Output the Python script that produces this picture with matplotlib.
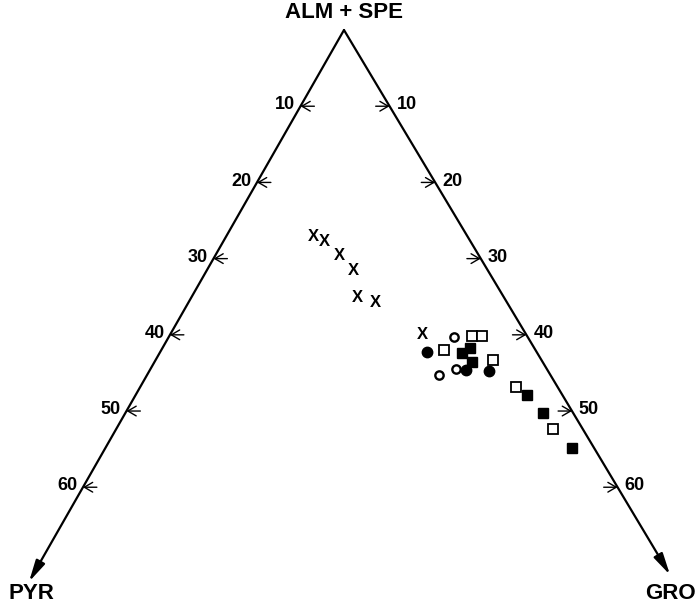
import numpy as np
import matplotlib
matplotlib.use("Agg")
import matplotlib.pyplot as plt

plt.rcParams['font.family'] = ['Liberation Sans', 'DejaVu Sans']
plt.rcParams['font.weight'] = 'bold'

# garnet compositions, mol % (ALM+SPE = 100 - PYR - GRO)
x_pyr = [17.3, 16.4, 15.7, 15.1, 16.4, 14.7, 11.6]
x_gro = [9.8, 11.3, 13.9, 16.5, 18.7, 21.0, 28.3]

oc_pyr = [8.3, 10.2, 12.5]
oc_gro = [32.0, 34.3, 32.8]

fc_pyr = [12.3, 9.1, 6.6]
fc_gro = [30.0, 35.5, 38.2]

os_pyr = [6.2, 5.1, 10.3, 5.4, 4.7, 3.4]
os_gro = [33.9, 35.1, 31.7, 37.9, 42.2, 49.0]

fs_pyr = [8.5, 7.2, 8.0, 4.0, 3.4, 2.5]
fs_gro = [33.9, 34.5, 35.6, 43.9, 46.8, 52.4]

ticks = [10, 20, 30, 40, 50, 60]
pyr_end, gro_end = 72.4, 71.5


def tern(p, g):
    # x across (slightly uneven sides as drawn), y = distance down from apex
    p = np.asarray(p, dtype=float)
    g = np.asarray(g, dtype=float)
    return -0.4855 * p + 0.5089 * g, p + g


fig = plt.figure(figsize=(6.99, 6.09), dpi=100)
ax = fig.add_axes([0, 0, 1, 1])
ax.set_xlim(-38.39, 39.62)
ax.set_ylim(75.98, -3.94)
ax.axis('off')

# triangle sides with arrows toward the end members
apex = tern(0, 0)
for end in (tern(pyr_end, 0), tern(0, gro_end)):
    ax.annotate('', xy=end, xytext=apex,
                arrowprops=dict(arrowstyle='-|>,head_length=1.3,head_width=0.3',
                                lw=1.6, color='black', shrinkA=0, shrinkB=0))

tick_style = dict(arrowstyle='->,head_length=0.6,head_width=0.35',
                  lw=1.0, color='black', shrinkA=0, shrinkB=0)

# tick marks and labels
for t in ticks:
    xl, yl = tern(t, 0)
    ax.annotate('', xy=(xl, yl), xytext=(10, 0), textcoords='offset points',
                arrowprops=tick_style)
    ax.annotate(str(t), (xl, yl), xytext=(-4, 1), textcoords='offset points',
                ha='right', va='center', fontsize=13, fontweight='bold')
    xr, yr = tern(0, t)
    ax.annotate('', xy=(xr, yr), xytext=(-10, 0), textcoords='offset points',
                arrowprops=tick_style)
    ax.annotate(str(t), (xr, yr), xytext=(5, 1), textcoords='offset points',
                ha='left', va='center', fontsize=13, fontweight='bold')

# end member labels
ax.text(0.0, -2.25, 'ALM + SPE', ha='center', va='center', fontsize=16, fontweight='bold')
ax.text(-34.9, 74.0, 'PYR', ha='center', va='center', fontsize=16, fontweight='bold')
ax.text(36.4, 74.0, 'GRO', ha='center', va='center', fontsize=16, fontweight='bold')

# samples
for xx, yy in zip(*tern(x_pyr, x_gro)):
    ax.text(xx, yy, 'X', ha='center', va='center', fontsize=12, fontweight='bold')

xo, yo = tern(os_pyr, os_gro)
ax.plot(xo, yo, 's', ms=7.5, mfc='white', mec='black', mew=1.3, ls='none')
xf, yf = tern(fs_pyr, fs_gro)
ax.plot(xf, yf, 's', ms=7.5, mfc='black', mec='black', ls='none')
xc, yc = tern(oc_pyr, oc_gro)
ax.plot(xc, yc, 'o', ms=6, mfc='white', mec='black', mew=1.7, ls='none')
xd, yd = tern(fc_pyr, fc_gro)
ax.plot(xd, yd, 'o', ms=7.5, mfc='black', mec='black', ls='none')

fig.savefig('out.png', dpi=100)
